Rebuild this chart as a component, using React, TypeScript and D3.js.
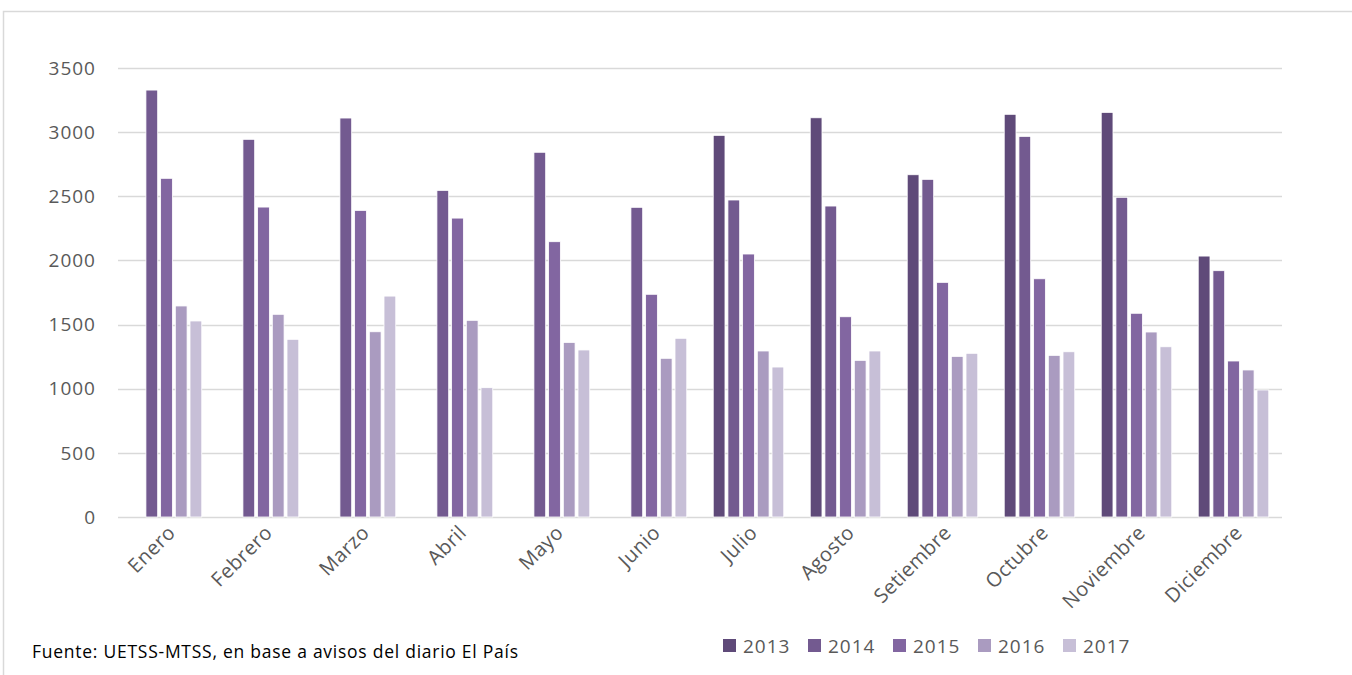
import { useEffect, useRef } from 'react'
import * as d3 from 'd3'

const months = ['Enero', 'Febrero', 'Marzo', 'Abril', 'Mayo', 'Junio', 'Julio', 'Agosto', 'Setiembre', 'Octubre', 'Noviembre', 'Diciembre']
const years = ['2013', '2014', '2015', '2016', '2017']
const v2013 = [null, null, null, null, null, null, 2975, 3112, 2668, 3139, 3154, 2034]
const v2014 = [3328, 2944, 3110, 2546, 2843, 2414, 2471, 2424, 2632, 2967, 2492, 1920]
const v2015 = [2640, 2416, 2390, 2330, 2146, 1736, 2050, 1561, 1829, 1857, 1588, 1216]
const v2016 = [1645, 1580, 1444, 1533, 1361, 1237, 1294, 1221, 1252, 1260, 1442, 1146]
const v2017 = [1528, 1385, 1722, 1008, 1302, 1393, 1169, 1294, 1276, 1288, 1327, 990]
const yTicks = [0, 500, 1000, 1500, 2000, 2500, 3000, 3500]
const colors = ['#5f4a79', '#735a90', '#8266a1', '#aa9bc0', '#c7bfd7']
const source = 'Fuente: UETSS-MTSS, en base a avisos del diario El País'

const W = 1352
const H = 675
const font = '"Open Sans", "Noto Sans", sans-serif'

export default function App() {
    const ref = useRef<SVGSVGElement>(null)

    useEffect(() => {
        const svg = d3.select(ref.current)
        svg.selectAll('*').remove()

        const series = [v2013, v2014, v2015, v2016, v2017]
        const left = 118, right = 1282, top = 68, bottom = 517

        // outer frame
        svg.append('rect')
            .attr('x', 3.5).attr('y', 11.5)
            .attr('width', W + 20).attr('height', H + 20)
            .attr('fill', '#fff').attr('stroke', '#d9d9d9').attr('stroke-width', 1.5)

        const x0 = d3.scaleBand().domain(months).range([left, right])
        const x1 = d3.scaleBand().domain(years)
            .range([0, x0.bandwidth()])
            .paddingInner(0.2).paddingOuter(0.9)
        const y = d3.scaleLinear().domain([0, 3500]).range([bottom, top])

        // grid
        svg.append('g').selectAll('line')
            .data(yTicks)
            .enter().append('line')
            .attr('x1', left).attr('x2', right)
            .attr('y1', d => Math.round(y(d)) + 0.5).attr('y2', d => Math.round(y(d)) + 0.5)
            .attr('stroke', '#d9d9d9').attr('stroke-width', 1.5)

        svg.append('g').selectAll('text')
            .data(yTicks)
            .enter().append('text')
            .attr('x', 96).attr('y', d => y(d))
            .attr('dy', '0.35em')
            .attr('text-anchor', 'end')
            .attr('font-family', font).attr('font-size', 19)
            .attr('letter-spacing', 1)
            .attr('fill', '#595959')
            .text(d => d)

        // bars
        const groups = svg.append('g').selectAll('g')
            .data(months)
            .enter().append('g')
            .attr('transform', m => `translate(${x0(m)},0)`)

        groups.selectAll('rect')
            .data((m, i) => years.map((yr, k) => ({ yr, k, v: series[k][i] })).filter(d => d.v != null))
            .enter().append('rect')
            .attr('x', d => x1(d.yr)!)
            .attr('width', x1.bandwidth())
            .attr('y', d => y(d.v as number))
            .attr('height', d => bottom - y(d.v as number))
            .attr('fill', d => colors[d.k])
            .attr('stroke', '#fff').attr('stroke-width', 0.8)

        // month labels
        svg.append('g').selectAll('text')
            .data(months)
            .enter().append('text')
            .attr('transform', m => `translate(${x0(m)! + x0.bandwidth() / 2 + 10},${bottom + 17}) rotate(-45)`)
            .attr('text-anchor', 'end')
            .attr('font-family', font).attr('font-size', 20)
            .attr('letter-spacing', 0.4)
            .attr('fill', '#595959')
            .text(m => m)

        // source
        svg.append('text')
            .attr('x', 32).attr('y', 658)
            .attr('font-family', font).attr('font-size', 17.5)
            .attr('textLength', 486).attr('lengthAdjust', 'spacing')
            .attr('fill', '#000')
            .text(source)

        // legend
        const leg = svg.append('g').selectAll('g')
            .data(years)
            .enter().append('g')
            .attr('transform', (d, i) => `translate(${723 + i * 85},639)`)
        leg.append('rect')
            .attr('width', 13).attr('height', 13)
            .attr('fill', (d, i) => colors[i])
        leg.append('text')
            .attr('x', 20).attr('y', 7)
            .attr('dy', '0.35em')
            .attr('font-family', font).attr('font-size', 19)
            .attr('letter-spacing', 1)
            .attr('fill', '#595959')
            .text(d => d)
    })

    return (
        <svg ref={ref} width={W} height={H}
            style={{ position: 'absolute', left: 0, top: 0, background: '#fff' }} />
    )
}
